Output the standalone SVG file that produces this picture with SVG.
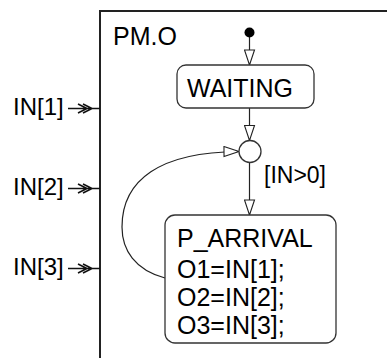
<svg xmlns="http://www.w3.org/2000/svg" width="387" height="358" viewBox="0 0 387 358">
  <style>
    .t { font-family: "Liberation Sans", Arial, Helvetica, sans-serif; font-size: 25px; fill: #000; }
    .s { font-size: 24px; }
    .g { font-size: 23px; }
    .frame { fill: none; stroke: #222; stroke-width: 2; }
    .state { fill: #fff; stroke: #333; stroke-width: 1.3; }
    .edge { fill: none; stroke: #222; stroke-width: 1.2; }
    .chev { fill: none; stroke: #111; stroke-width: 1.6; }
  </style>
  <defs>
    <marker id="tri" markerUnits="userSpaceOnUse" markerWidth="17" markerHeight="12" viewBox="-1 -1 17 12" refX="15" refY="5" orient="auto">
      <path d="M0,0 L15,5 L0,10 Z" fill="#fff" stroke="#222" stroke-width="1.1"/>
    </marker>
  </defs>
  <rect width="387" height="358" fill="#fff"/>

  <g id="frame">
    <path class="frame" d="M387,11 L100,11 L100,358"/>
    <text class="t" x="113" y="44.5">PM.O</text>
  </g>

  <g id="in1">
    <text class="t s" x="13" y="115">IN[1]</text>
    <path class="chev" d="M68,108.5 L100,108.5 M78,104 L87,108.5 L78,113 M83,104 L92,108.5 L83,113"/>
  </g>
  <g id="in2">
    <text class="t s" x="13" y="195">IN[2]</text>
    <path class="chev" d="M68,188.5 L100,188.5 M78,184 L87,188.5 L78,193 M83,184 L92,188.5 L83,193"/>
  </g>
  <g id="in3">
    <text class="t s" x="13" y="275">IN[3]</text>
    <path class="chev" d="M68,268.5 L100,268.5 M78,264 L87,268.5 L78,273 M83,264 L92,268.5 L83,273"/>
  </g>

  <g id="connectors">
    <line class="edge" x1="249.5" y1="36" x2="249.5" y2="65" marker-end="url(#tri)"/>
    <line class="edge" x1="249.5" y1="108" x2="249.5" y2="140.5" marker-end="url(#tri)"/>
    <line class="edge" x1="249.5" y1="162.5" x2="249.5" y2="215" marker-end="url(#tri)"/>
    <path class="edge" d="M165,278 C135,270 122,250 122,227 C122,180 160,152 239,151.5" marker-end="url(#tri)"/>
    <text class="t g" x="264" y="183">[IN&gt;0]</text>
  </g>

  <g id="initial">
    <circle cx="249.5" cy="32.5" r="5" fill="#000"/>
  </g>

  <g id="waiting">
    <rect class="state" x="177" y="65" width="137" height="43" rx="9"/>
    <text class="t" x="187" y="97">WAITING</text>
  </g>

  <g id="junction">
    <circle class="state" cx="250" cy="151.5" r="11"/>
  </g>

  <g id="p_arrival">
    <rect class="state" x="165" y="215" width="171" height="128" rx="10"/>
    <text class="t" x="177" y="247">P_ARRIVAL</text>
    <text class="t" x="177" y="278">O1=IN[1];</text>
    <text class="t" x="177" y="306">O2=IN[2];</text>
    <text class="t" x="177" y="334">O3=IN[3];</text>
  </g>
</svg>
